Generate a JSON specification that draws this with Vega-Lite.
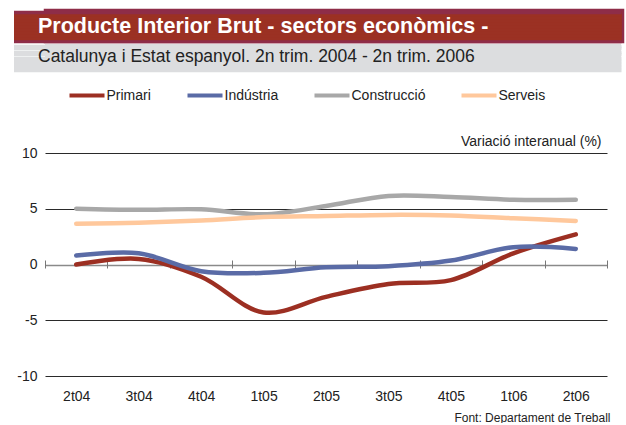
{
  "$schema": "https://vega.github.io/schema/vega-lite/v6.json",
  "background": "white",
  "padding": {"left": 10, "top": 8, "right": 0, "bottom": 0},
  "autosize": {"type": "pad"},
  "config": {"font": "Liberation Sans", "view": {"stroke": null}},
  "resolve": {"legend": {"color": "independent"}, "scale": {"color": "independent"}},
  "spacing": 4,
  "vconcat": [
    {
      "spacing": 0,
      "vconcat": [
        {
          "width": 578,
          "height": 32,
          "view": {"fill": "#9B3123", "stroke": "#8E2D48", "strokeWidth": 2.5},
          "title": {"text": "Producte Interior Brut - sectors econòmics -", "anchor": "start", "frame": "group", "orient": "top", "offset": -44, "dx": -7, "baseline": "alphabetic", "color": "white", "font": "Liberation Sans", "fontSize": 21.5, "fontWeight": "bold", "zindex": 5},
          "data": {"values": [{"k": 16}]},
          "mark": {"type": "point", "opacity": 0},
          "encoding": {
            "y": {"field": "k", "type": "quantitative", "scale": {"domain": [0, 32], "nice": false, "zero": false},
              "axis": {"orient": "left", "offset": -576, "domain": false, "labels": false, "grid": false, "title": null,
                "values": [1.5, 4.5, 7.5, 10.5, 13.5, 16.5, 19.5, 22.5, 25.5, 28.5, 30.5],
                "ticks": true, "tickSize": 607.5, "tickWidth": 3.5,
                "tickColor": {"condition": {"test": "datum.value < 2 || datum.value > 30", "value": "#8E2D48"}, "value": "#9B3123"}}}
          }
        },
        {
          "width": 576,
          "height": 27,
          "view": {"fill": "#DCDDDF", "stroke": null},
          "title": {"text": "Catalunya i Estat espanyol. 2n trim. 2004 - 2n trim. 2006", "anchor": "start", "frame": "group", "orient": "top", "offset": -35.5, "dx": -7, "baseline": "alphabetic", "color": "#222222", "font": "Liberation Sans", "fontSize": 17.5, "fontWeight": "normal", "zindex": 5},
          "data": {"values": [{"k": 13}]},
          "mark": {"type": "point", "opacity": 0},
          "encoding": {
            "y": {"field": "k", "type": "quantitative", "scale": {"domain": [0, 27], "nice": false, "zero": false},
              "axis": {"orient": "left", "offset": -576, "domain": false, "labels": false, "grid": false, "title": null,
                "values": [1.5, 4.5, 7.5, 10.5, 13.5, 16.5, 19.5, 22.5, 25.5],
                "ticks": true, "tickSize": 607.5, "tickWidth": 3.5, "tickColor": "#DCDDDF"}}
          }
        }
      ]
    },
    {
      "width": 562,
      "height": 223,
      "data": {"values": [
        {"q": "2t04", "s": "Primari", "v": 0.0},
        {"q": "3t04", "s": "Primari", "v": 0.5},
        {"q": "4t04", "s": "Primari", "v": -1.1},
        {"q": "1t05", "s": "Primari", "v": -4.3},
        {"q": "2t05", "s": "Primari", "v": -2.9},
        {"q": "3t05", "s": "Primari", "v": -1.75},
        {"q": "4t05", "s": "Primari", "v": -1.4},
        {"q": "1t06", "s": "Primari", "v": 1.0},
        {"q": "2t06", "s": "Primari", "v": 2.7},
        {"q": "2t04", "s": "Indústria", "v": 0.8},
        {"q": "3t04", "s": "Indústria", "v": 1.0},
        {"q": "4t04", "s": "Indústria", "v": -0.6},
        {"q": "1t05", "s": "Indústria", "v": -0.75},
        {"q": "2t05", "s": "Indústria", "v": -0.25},
        {"q": "3t05", "s": "Indústria", "v": -0.15},
        {"q": "4t05", "s": "Indústria", "v": 0.35},
        {"q": "1t06", "s": "Indústria", "v": 1.55},
        {"q": "2t06", "s": "Indústria", "v": 1.4},
        {"q": "2t04", "s": "Construcció", "v": 5.0},
        {"q": "3t04", "s": "Construcció", "v": 4.9},
        {"q": "4t04", "s": "Construcció", "v": 4.95},
        {"q": "1t05", "s": "Construcció", "v": 4.5},
        {"q": "2t05", "s": "Construcció", "v": 5.25},
        {"q": "3t05", "s": "Construcció", "v": 6.15},
        {"q": "4t05", "s": "Construcció", "v": 6.05},
        {"q": "1t06", "s": "Construcció", "v": 5.8},
        {"q": "2t06", "s": "Construcció", "v": 5.8},
        {"q": "2t04", "s": "Serveis", "v": 3.65},
        {"q": "3t04", "s": "Serveis", "v": 3.75},
        {"q": "4t04", "s": "Serveis", "v": 3.95},
        {"q": "1t05", "s": "Serveis", "v": 4.25},
        {"q": "2t05", "s": "Serveis", "v": 4.35},
        {"q": "3t05", "s": "Serveis", "v": 4.45},
        {"q": "4t05", "s": "Serveis", "v": 4.4},
        {"q": "1t06", "s": "Serveis", "v": 4.15},
        {"q": "2t06", "s": "Serveis", "v": 3.9}
      ]},
      "mark": {"type": "line", "interpolate": "catmull-rom", "strokeWidth": 4.5, "strokeCap": "round"},
      "encoding": {
        "x": {
          "field": "q", "type": "ordinal",
          "sort": ["2t04", "3t04", "4t04", "1t05", "2t05", "3t05", "4t05", "1t06", "2t06"],
          "scale": {"type": "band", "paddingInner": 0, "paddingOuter": 0},
          "axis": {
            "orient": "bottom", "offset": -116, "domain": false, "ticks": true, "tickBand": "extent",
            "tickSize": 8, "tickColor": "#777777", "tickWidth": 1, "labelPadding": 121, "labelAngle": 0,
            "labelFontSize": 14, "labelColor": "#222222",
            "title": "Font: Departament de Treball", "titleX": 565, "titleY": 157, "titleAlign": "right",
            "titleBaseline": "middle", "titleFontSize": 12, "titleFontWeight": "normal", "titleColor": "#222222"
          }
        },
        "y": {
          "field": "v", "type": "quantitative",
          "scale": {"domain": [-10, 10], "nice": false, "zero": false},
          "axis": {
            "values": [-10, -5, 0, 5, 10], "domain": false, "ticks": false, "grid": true,
            "labelExpr": "datum.value < 0 ? '-' + abs(datum.value) : '' + datum.value",
            "gridColor": {"condition": {"test": "datum.value === 0", "value": "#8a8a8a"}, "value": "#2a2a2a"},
            "gridWidth": {"condition": {"test": "datum.value === 0", "value": 1.5}, "value": 1},
            "labelPadding": 8, "labelFontSize": 14, "labelColor": "#222222",
            "minExtent": 32, "maxExtent": 32,
            "title": "Variació interanual (%)", "titleAngle": 0, "titleX": 556, "titleY": -8,
            "titleAlign": "right", "titleBaseline": "alphabetic", "titleFontWeight": "normal",
            "titleFontSize": 14, "titleColor": "#222222"
          }
        },
        "color": {
          "field": "s", "type": "nominal",
          "scale": {"domain": ["Primari", "Indústria", "Construcció", "Serveis"], "range": ["#9C2F22", "#5A6BA6", "#A8A8A8", "#FFC89C"]},
          "legend": {
            "title": null, "orient": "none", "legendX": 22.5, "legendY": -77, "direction": "horizontal",
            "columns": 4, "gridAlign": "none", "symbolType": "stroke", "symbolSize": 1225, "symbolStrokeWidth": 4,
            "labelFontSize": 14, "labelColor": "#222222", "labelOffset": 0, "columnPadding": 28
          }
        }
      }
    }
  ]
}
